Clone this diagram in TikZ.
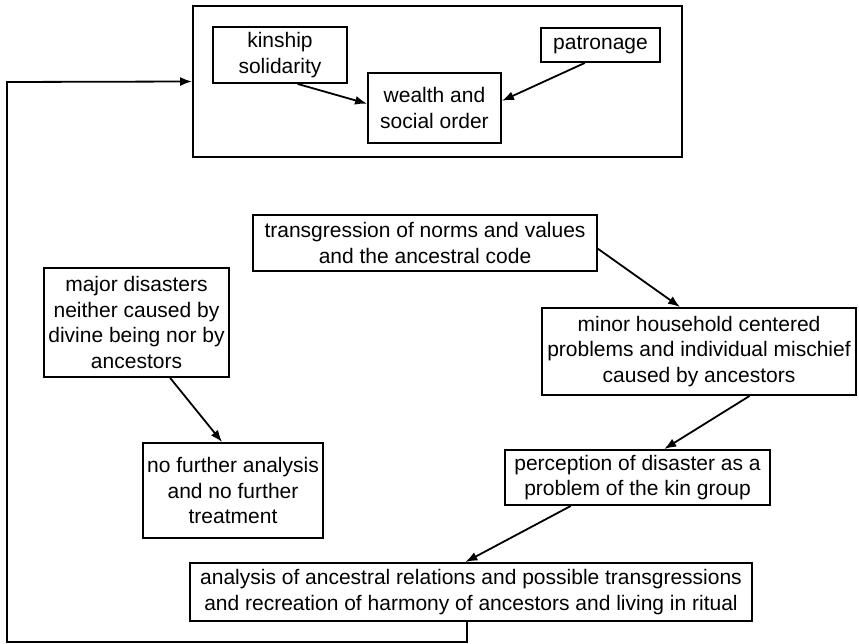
\documentclass[tikz,border=0pt]{standalone}
\usepackage{fontspec}
\setmainfont{Liberation Sans}
\usetikzlibrary{arrows.meta,calc}
\begin{document}
\begin{tikzpicture}[x=1pt,y=-1pt,
  box/.style={draw,line width=1.9pt,rectangle,inner sep=0pt,align=center,
    font=\fontsize{21}{25.5}\selectfont},
  arr/.style={line width=1.8pt,-{Latex[length=12pt,width=9pt]}}]
\useasboundingbox (0,0) rectangle (859,644);
\node[box,minimum width=489pt,minimum height=151pt] (outer) at (437.5,81.5) {};
\node[box,minimum width=134pt,minimum height=56pt] (kin) at (280,55) {kinship\\solidarity};
\node[box,minimum width=119pt,minimum height=34pt] (pat) at (600.5,45) {patronage};
\node[box,minimum width=133pt,minimum height=70pt] (wealth) at (434.5,108) {wealth and\\social order};
\node[box,minimum width=344pt,minimum height=56pt] (trans) at (425,243) {transgression of norms and values\\and the ancestral code};
\node[box,minimum width=314pt,minimum height=87pt] (minor) at (699,351.5) {minor household centered\\problems and individual mischief\\caused by ancestors};
\node[box,minimum width=185pt,minimum height=109pt] (major) at (136.5,322.5) {major disasters\\neither caused by\\divine being nor by\\ancestors};
\node[box,minimum width=180pt,minimum height=95pt] (nof) at (233,490.5) {no further analysis\\and no further\\treatment};
\node[box,minimum width=265pt,minimum height=55pt] (perc) at (637.5,477.5) {perception of disaster as a\\problem of the kin group};
\node[box,minimum width=562pt,minimum height=58pt] (ana) at (471,592) {analysis of ancestral relations and possible transgressions\\and recreation of harmony of ancestors and living in ritual};
\draw[arr] ($(kin.south west)!0.63!(kin.south east)$) -- ($(wealth.north west)!0.44!(wealth.south west)$);
\draw[arr] ($(pat.south west)!0.37!(pat.south east)$) -- ($(wealth.north east)!0.40!(wealth.south east)$);
\draw[arr] ($(trans.north east)!0.6!(trans.south east)$) -- ($(minor.north west)!0.44!(minor.north east)$);
\draw[arr] ($(major.south west)!0.68!(major.south east)$) -- ($(nof.north west)!0.44!(nof.north east)$);
\draw[arr] ($(minor.south west)!0.66!(minor.south east)$) -- ($(perc.north west)!0.60!(perc.north east)$);
\draw[arr] ($(perc.south west)!0.25!(perc.south east)$) -- ($(ana.north west)!0.49!(ana.north east)$);
\coordinate (a0) at ($(ana.south west)!0.493!(ana.south east)$);
\coordinate (c1) at (7,642);
\coordinate (c2) at (7,82);
\draw[arr] (a0) -- (a0 |- c1) -- (c1) -- (c2) -- (outer.west);
\end{tikzpicture}
\end{document}
